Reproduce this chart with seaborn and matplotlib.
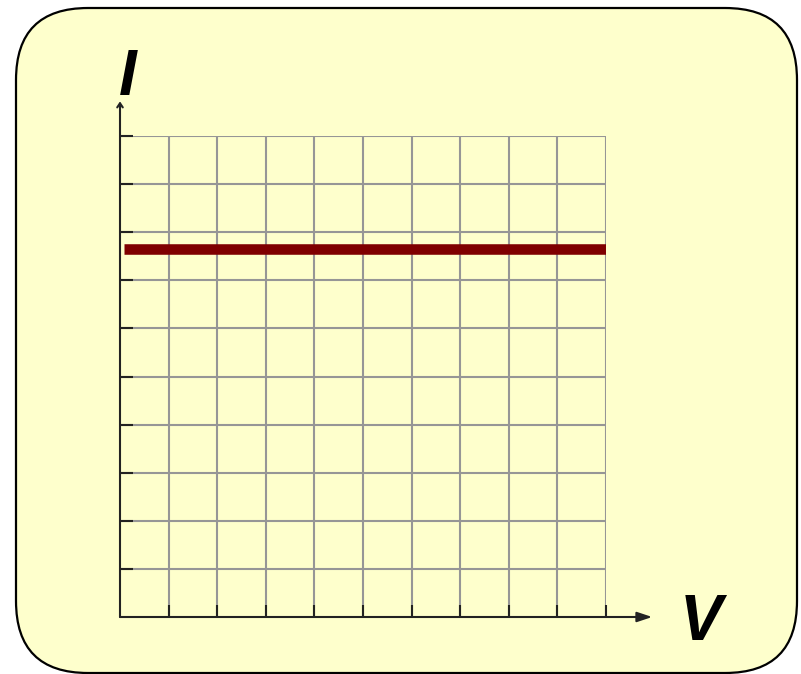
import matplotlib
matplotlib.use("Agg")
import matplotlib.pyplot as plt
import seaborn as sns
import pandas as pd
from matplotlib.patches import FancyBboxPatch

# data
grid_ticks = list(range(0, 11))
voltage = [0.08, 10.0]
current = [7.65, 7.65]
x_label = "V"
y_label = "I"

sns.set_style("white")
plt.rcParams["font.family"] = ["Liberation Sans", "DejaVu Sans"]

fig = plt.figure(figsize=(8.01, 6.74), dpi=100)

# rounded yellow panel behind everything
bg = fig.add_axes([0, 0, 1, 1], zorder=0)
bg.set_xlim(0, 801)
bg.set_ylim(674, 0)
bg.axis("off")
bg.add_patch(FancyBboxPatch((16, 8), 781, 665,
                            boxstyle="round,pad=0,rounding_size=72",
                            facecolor="#feffcc", edgecolor="black", linewidth=1.6))

ax = fig.add_axes([120 / 801, 57 / 674, 486 / 801, 481 / 674], zorder=1)
ax.patch.set_alpha(0)
ax.set_xlim(0, 10)
ax.set_ylim(0, 10)
ax.set_axisbelow(False)

for t in grid_ticks[1:]:
    ax.axvline(t, color="#969696", lw=1.5, zorder=1)
    ax.axhline(t, color="#969696", lw=1.5, zorder=1)

df = pd.DataFrame({"V": voltage, "I": current})
sns.lineplot(data=df, x="V", y="I", color="#7f0000", lw=7.6, ax=ax, zorder=3,
             solid_capstyle="butt")

for s in ax.spines.values():
    s.set_visible(False)

ax.set_xticks(grid_ticks[1:])
ax.set_yticks(grid_ticks[1:])
ax.tick_params(direction="in", length=9, width=1.5, color="#222222",
               labelbottom=False, labelleft=False, bottom=True, left=True)
ax.set_xlabel("")
ax.set_ylabel("")

# axes arrows
ax.annotate("", xy=(10.95, 0), xytext=(0, 0), annotation_clip=False,
            arrowprops=dict(arrowstyle="-|>,head_length=0.9,head_width=0.3",
                            color="#222222", lw=1.5, shrinkA=0, shrinkB=0))
ax.annotate("", xy=(0, 10.72), xytext=(0, 0), annotation_clip=False,
            arrowprops=dict(arrowstyle="->,head_length=0.3,head_width=0.2",
                            color="#222222", lw=1.5, shrinkA=0, shrinkB=0))

ax.text(0.15, 10.86, y_label, fontsize=46, fontweight="bold", fontstyle="italic",
        color="black", ha="center", va="baseline", clip_on=False)
ax.text(11.95, -0.48, x_label, fontsize=46, fontweight="bold", fontstyle="italic",
        color="black", ha="center", va="baseline", clip_on=False)

fig.savefig("out.png", dpi=100)
